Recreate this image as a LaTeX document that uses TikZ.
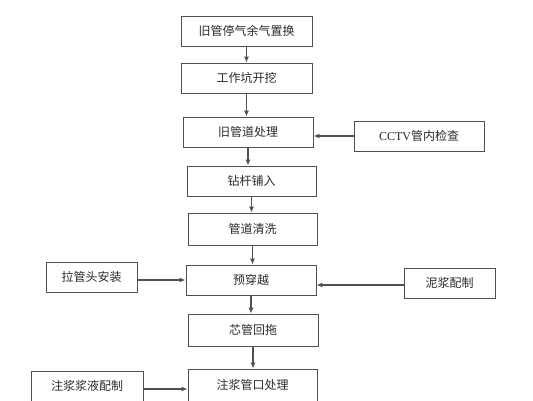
\documentclass[tikz,border=0pt]{standalone}
\usepackage{fontspec}
\setmainfont{Liberation Serif}
\newfontfamily\cjk{Noto Sans CJK SC}
\usepackage{xcolor}
\usetikzlibrary{arrows.meta}
\definecolor{vline}{HTML}{505050}
\definecolor{vtext}{HTML}{2a2a2a}

\tikzset{
	procbox/.style={draw=vline, line width=0.9pt, minimum width=130pt, minimum height=30pt, inner sep=0pt, text=vtext, font=\cjk\fontsize{12}{14}\selectfont},
	sidebox/.style={procbox, minimum width=91pt},
	flow/.style={draw=vline, line width=1.1pt, -{Latex[length=6pt,width=5pt]}},
}

\begin{document}
\begin{tikzpicture}[x=1pt, y=-1pt]
		\useasboundingbox (0,0) rectangle (533,400);
		\clip (0,0) rectangle (533,400);
		\node[procbox, minimum width=131pt] (huanqi) at (246.5,31) {旧管停气余气置换};
		\node[procbox, minimum width=131pt] (kaiwa) at (246.5,78) {工作坑开挖};
		\node[procbox] (jiuguan) at (248,132) {旧管道处理};
		\node[procbox] (cctv) at (419,136) {{\rmfamily CCTV}管内检查};
		\node[procbox, minimum width=129pt] (puru) at (251.5,181) {钻杆铺入};
		\node[procbox, minimum width=129pt, minimum height=32pt] (qingxi) at (252.5,229) {管道清洗};
		\node[procbox] (yuchuan) at (251,280) {预穿越};
		\node[sidebox] (laguan) at (91.5,277) {拉管头安装};
		\node[sidebox] (nijiang) at (449.5,283) {泥浆配制};
		\node[procbox, minimum height=32pt] (huituo) at (253,330) {芯管回拖};
		\node[procbox, minimum width=129pt, minimum height=32pt] (guankou) at (252.5,385) {注浆管口处理};
		\node[sidebox, minimum width=112pt] (jiangye) at (87,386) {注浆浆液配制};
		\draw[flow] (huanqi.south) -- (huanqi.south |- kaiwa.north);
		\draw[flow] (kaiwa.south) -- (kaiwa.south |- jiuguan.north);
		\draw[flow] (jiuguan.south) -- (jiuguan.south |- puru.north);
		\draw[flow] (puru.south) -- (puru.south |- qingxi.north);
		\draw[flow] (qingxi.south) -- (qingxi.south |- yuchuan.north);
		\draw[flow] (yuchuan.south) -- (yuchuan.south |- huituo.north);
		\draw[flow] (huituo.south) -- (huituo.south |- guankou.north);
		\draw[flow] (cctv.west) -- (cctv.west -| jiuguan.east);
		\draw[flow] ([yshift=-3pt]laguan.east) -- ([yshift=-3pt]laguan.east -| yuchuan.west);
		\draw[flow] ([yshift=-2pt]nijiang.west) -- ([yshift=-2pt]nijiang.west -| yuchuan.east);
		\draw[flow] ([yshift=-3pt]jiangye.east) -- ([yshift=-3pt]jiangye.east -| guankou.west);
	\end{tikzpicture}
\end{document}
